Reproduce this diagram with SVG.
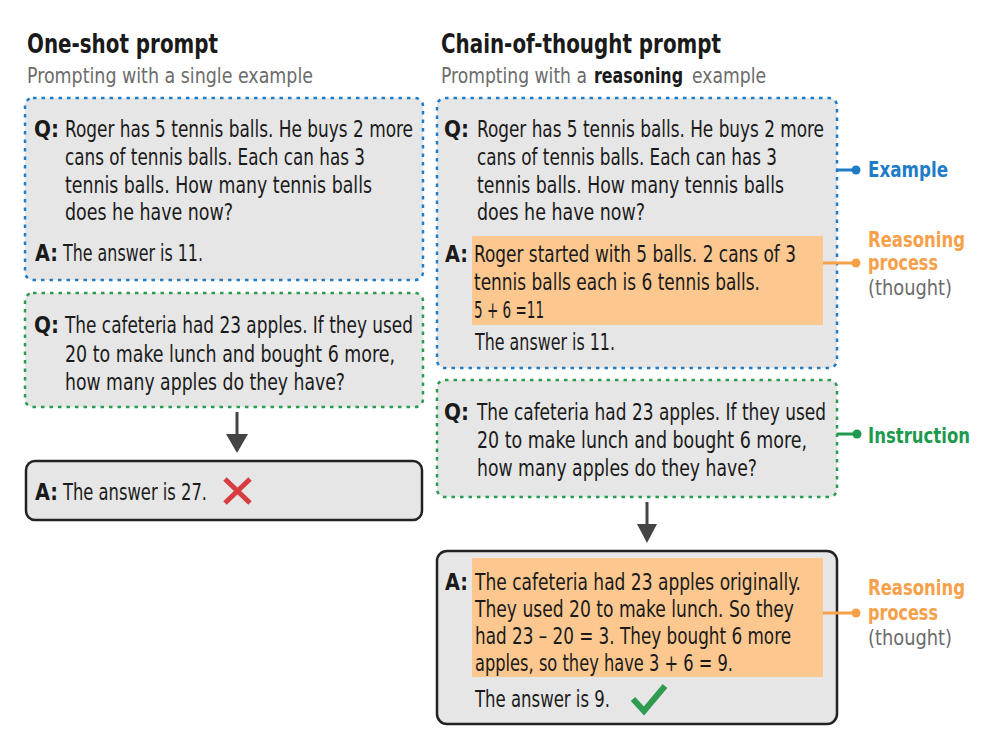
<svg xmlns="http://www.w3.org/2000/svg" width="998" height="736" viewBox="0 0 998 736">
<defs>
<style>
text{font-family:"Liberation Sans Narrow","DejaVu Sans Condensed","Liberation Sans",sans-serif;fill:#1a1a1a;}
.t{font-size:23px;}
.lb{font-size:23px;font-weight:bold;}
.title{font-size:27px;font-weight:bold;}
.sub{font-size:21px;fill:#6b6b6b;}
.subb{font-size:21px;font-weight:bold;fill:#1a1a1a;}
.blue{fill:#e6e6e6;stroke:#1f7cc6;stroke-width:2.5;stroke-dasharray:3.5 5;}
.green{fill:#e6e6e6;stroke:#2a9b55;stroke-width:2.5;stroke-dasharray:3.5 5;}
.ans{fill:#e6e6e6;stroke:#222;stroke-width:2.5;}
.hl{fill:#fcc890;}
.lab{font-size:22px;font-weight:bold;}
.grey{font-size:22px;fill:#6b6b6b;}
.arrow{stroke:#444;stroke-width:3;}
</style>
</defs>

<g id="title-left">
<text class="title" x="27" y="53" textLength="191" lengthAdjust="spacingAndGlyphs">One-shot prompt</text>
<text class="sub" x="27" y="83" textLength="286" lengthAdjust="spacingAndGlyphs">Prompting with a single example</text>
</g>

<g id="title-right">
<text class="title" x="441" y="53" textLength="280" lengthAdjust="spacingAndGlyphs">Chain-of-thought prompt</text>
<text class="sub" x="441" y="83" textLength="146" lengthAdjust="spacingAndGlyphs">Prompting with a</text>
<text class="subb" x="594" y="83" textLength="89" lengthAdjust="spacingAndGlyphs">reasoning</text>
<text class="sub" x="692" y="83" textLength="74" lengthAdjust="spacingAndGlyphs">example</text>
</g>

<g id="left-example">
<rect class="blue" x="25" y="98" width="398" height="182" rx="8"/>
<text class="lb" x="34" y="137" textLength="25" lengthAdjust="spacingAndGlyphs">Q:</text>
<text class="t" x="65" y="137" textLength="348" lengthAdjust="spacingAndGlyphs">Roger has 5 tennis balls. He buys 2 more</text>
<text class="t" x="65" y="165" textLength="300" lengthAdjust="spacingAndGlyphs">cans of tennis balls. Each can has 3</text>
<text class="t" x="65" y="193" textLength="307" lengthAdjust="spacingAndGlyphs">tennis balls. How many tennis balls</text>
<text class="t" x="65" y="220" textLength="168" lengthAdjust="spacingAndGlyphs">does he have now?</text>
<text class="lb" x="35" y="261" textLength="23" lengthAdjust="spacingAndGlyphs">A:</text>
<text class="t" x="63" y="261" textLength="140" lengthAdjust="spacingAndGlyphs">The answer is 11.</text>
</g>

<g id="left-instruction">
<rect class="green" x="25" y="293" width="398" height="114" rx="8"/>
<text class="lb" x="34" y="333" textLength="25" lengthAdjust="spacingAndGlyphs">Q:</text>
<text class="t" x="65" y="333" textLength="348" lengthAdjust="spacingAndGlyphs">The cafeteria had 23 apples. If they used</text>
<text class="t" x="65" y="362" textLength="330" lengthAdjust="spacingAndGlyphs">20 to make lunch and bought 6 more,</text>
<text class="t" x="65" y="390" textLength="280" lengthAdjust="spacingAndGlyphs">how many apples do they have?</text>
</g>

<g id="left-answer">
<rect class="ans" x="26" y="461" width="396" height="59" rx="9"/>
<text class="lb" x="35" y="500" textLength="23" lengthAdjust="spacingAndGlyphs">A:</text>
<text class="t" x="63" y="500" textLength="144" lengthAdjust="spacingAndGlyphs">The answer is 27.</text>
<path d="M225 479 L250 503 M250 479 L225 503" stroke="#d63c40" stroke-width="5" fill="none"/>
</g>

<g id="right-example">
<rect class="blue" x="437" y="98" width="400" height="270" rx="8"/>
<text class="lb" x="444" y="137" textLength="25" lengthAdjust="spacingAndGlyphs">Q:</text>
<text class="t" x="477" y="137" textLength="347" lengthAdjust="spacingAndGlyphs">Roger has 5 tennis balls. He buys 2 more</text>
<text class="t" x="477" y="165" textLength="300" lengthAdjust="spacingAndGlyphs">cans of tennis balls. Each can has 3</text>
<text class="t" x="477" y="193" textLength="307" lengthAdjust="spacingAndGlyphs">tennis balls. How many tennis balls</text>
<text class="t" x="477" y="220" textLength="168" lengthAdjust="spacingAndGlyphs">does he have now?</text>
<rect class="hl" x="472" y="236" width="351" height="89"/>
<text class="lb" x="445" y="262" textLength="23" lengthAdjust="spacingAndGlyphs">A:</text>
<text class="t" x="474" y="262" textLength="322" lengthAdjust="spacingAndGlyphs">Roger started with 5 balls. 2 cans of 3</text>
<text class="t" x="474" y="290" textLength="286" lengthAdjust="spacingAndGlyphs">tennis balls each is 6 tennis balls.</text>
<text class="t" x="474" y="318" textLength="70" lengthAdjust="spacingAndGlyphs">5 + 6 =11</text>
<text class="t" x="475" y="350" textLength="140" lengthAdjust="spacingAndGlyphs">The answer is 11.</text>
</g>

<g id="right-instruction">
<rect class="green" x="437" y="380" width="400" height="117" rx="8"/>
<text class="lb" x="444" y="420" textLength="25" lengthAdjust="spacingAndGlyphs">Q:</text>
<text class="t" x="477" y="420" textLength="349" lengthAdjust="spacingAndGlyphs">The cafeteria had 23 apples. If they used</text>
<text class="t" x="477" y="448" textLength="330" lengthAdjust="spacingAndGlyphs">20 to make lunch and bought 6 more,</text>
<text class="t" x="477" y="476" textLength="280" lengthAdjust="spacingAndGlyphs">how many apples do they have?</text>
</g>

<g id="right-answer">
<rect class="ans" x="437" y="551" width="400" height="173" rx="10"/>
<rect class="hl" x="472" y="558" width="351" height="119"/>
<text class="lb" x="445" y="590" textLength="23" lengthAdjust="spacingAndGlyphs">A:</text>
<text class="t" x="475" y="590" textLength="326" lengthAdjust="spacingAndGlyphs">The cafeteria had 23 apples originally.</text>
<text class="t" x="475" y="617" textLength="319" lengthAdjust="spacingAndGlyphs">They used 20 to make lunch. So they</text>
<text class="t" x="475" y="644" textLength="316" lengthAdjust="spacingAndGlyphs">had 23 – 20 = 3. They bought 6 more</text>
<text class="t" x="475" y="671" textLength="258" lengthAdjust="spacingAndGlyphs">apples, so they have 3 + 6 = 9.</text>
<text class="t" x="475" y="707" textLength="135" lengthAdjust="spacingAndGlyphs">The answer is 9.</text>
<path d="M633 699 L644 711 L665 686" stroke="#2e9b50" stroke-width="6" fill="none"/>
</g>

<g id="label-example">
<text class="lab" x="868" y="177" style="fill:#1f7cc6" textLength="80" lengthAdjust="spacingAndGlyphs">Example</text>
</g>
<g id="label-reasoning-1">
<text class="lab" x="868" y="247" style="fill:#f7a04a" textLength="97" lengthAdjust="spacingAndGlyphs">Reasoning</text>
<text class="lab" x="868" y="270" style="fill:#f7a04a" textLength="70" lengthAdjust="spacingAndGlyphs">process</text>
<text class="grey" x="868" y="295" textLength="84" lengthAdjust="spacingAndGlyphs">(thought)</text>
</g>
<g id="label-instruction">
<text class="lab" x="868" y="443" style="fill:#1e9a4e" textLength="102" lengthAdjust="spacingAndGlyphs">Instruction</text>
</g>
<g id="label-reasoning-2">
<text class="lab" x="868" y="595" style="fill:#f7a04a" textLength="97" lengthAdjust="spacingAndGlyphs">Reasoning</text>
<text class="lab" x="868" y="620" style="fill:#f7a04a" textLength="70" lengthAdjust="spacingAndGlyphs">process</text>
<text class="grey" x="868" y="645" textLength="84" lengthAdjust="spacingAndGlyphs">(thought)</text>
</g>

<g id="connectors">
<line class="arrow" x1="237" y1="412" x2="237" y2="436"/>
<polygon points="226,434 248,434 237,453" fill="#444"/>
<line class="arrow" x1="647" y1="502" x2="647" y2="526"/>
<polygon points="637,524 657,524 647,543" fill="#444"/>
<line x1="837" y1="170" x2="856" y2="170" stroke="#1f7cc6" stroke-width="3"/>
<circle cx="856" cy="170" r="4.5" fill="#1f7cc6"/>
<line x1="823" y1="263" x2="856" y2="263" stroke="#f7a04a" stroke-width="3"/>
<circle cx="856" cy="263" r="4.5" fill="#f7a04a"/>
<line x1="837" y1="434" x2="857" y2="434" stroke="#1e9a4e" stroke-width="3"/>
<circle cx="857" cy="434" r="4.5" fill="#1e9a4e"/>
<line x1="823" y1="613" x2="856" y2="613" stroke="#f7a04a" stroke-width="3"/>
<circle cx="856" cy="613" r="4.5" fill="#f7a04a"/>
</g>
</svg>
